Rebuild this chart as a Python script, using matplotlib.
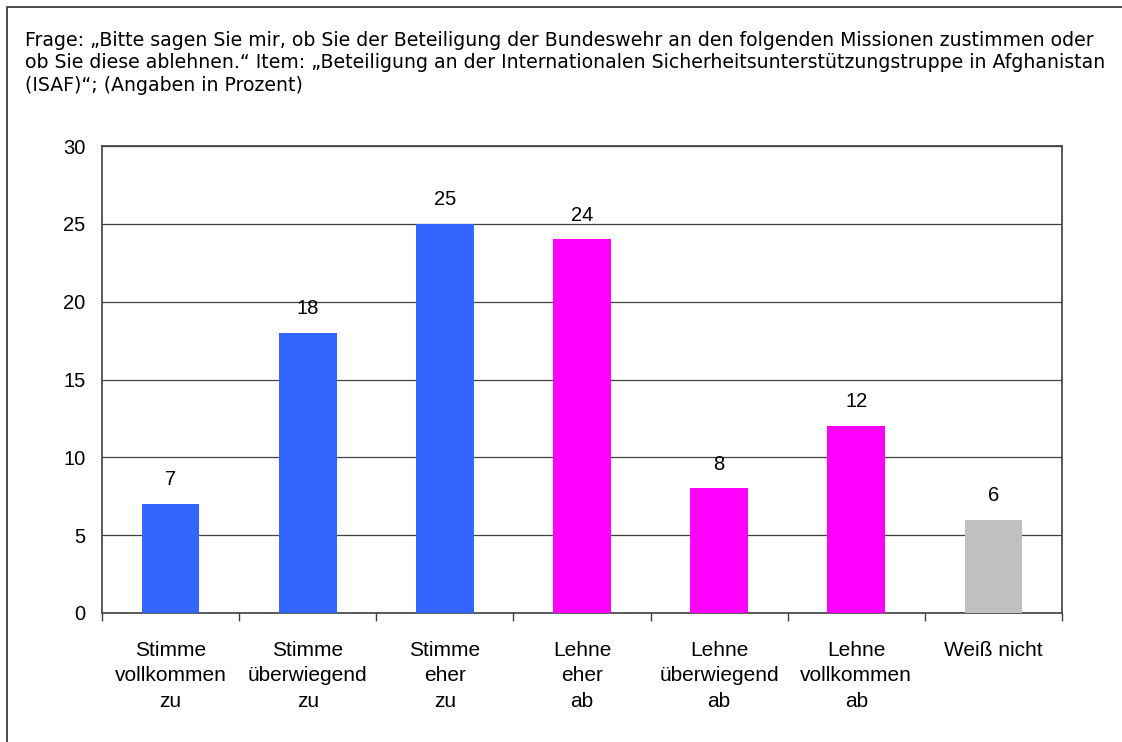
import matplotlib
matplotlib.use("Agg")
import matplotlib.pyplot as plt
from matplotlib.patches import Rectangle

plt.rcParams['font.family'] = ['Liberation Sans', 'DejaVu Sans']

# data
kategorien = ["Stimme\nvollkommen\nzu", "Stimme\nüberwiegend\nzu", "Stimme\neher\nzu",
              "Lehne\neher\nab", "Lehne\nüberwiegend\nab", "Lehne\nvollkommen\nab", "Weiß nicht"]
werte = [7, 18, 25, 24, 8, 12, 6]
farben = ["#3366FF", "#3366FF", "#3366FF", "#FF00FF", "#FF00FF", "#FF00FF", "#C0C0C0"]
yticks = [0, 5, 10, 15, 20, 25, 30]

titel = ("Frage: „Bitte sagen Sie mir, ob Sie der Beteiligung der Bundeswehr an den folgenden Missionen zustimmen oder\n"
         "ob Sie diese ablehnen.“ Item: „Beteiligung an der Internationalen Sicherheitsunterstützungstruppe in Afghanistan\n"
         "(ISAF)“; (Angaben in Prozent)")

W, H = 1122, 742
fig = plt.figure(figsize=(W/100, H/100), dpi=100)

# outer frame (cut off at right/bottom)
fig.patches.append(Rectangle((7/W, -0.1), 1.2, 1 - 7/H + 0.1, transform=fig.transFigure,
                             fill=False, edgecolor='#303030', linewidth=1.2))

fig.text(25/W, 1 - 31/H, titel, ha='left', va='top', fontsize=13.6, linespacing=1.22,
         family=['DejaVu Sans'])

ax = fig.add_axes([102/W, 1 - 613/H, (1062-102)/W, (613-146)/H])
x = list(range(len(werte)))
ax.bar(x, werte, width=0.42, color=farben, zorder=3)
for xi, v in zip(x, werte):
    ax.text(xi, v + 0.95, str(v), ha='center', va='bottom', fontsize=14.5)

ax.set_xlim(-0.5, len(werte) - 0.5)
ax.set_ylim(0, 30)
ax.set_yticks(yticks)
ax.set_yticklabels([str(t) for t in yticks], fontsize=14.5)
ax.tick_params(axis='y', length=0, pad=12)
ax.yaxis.grid(True, color='#404040', linewidth=0.9, zorder=0)

# category boundary ticks
ax.set_xticks([i - 0.5 for i in range(len(werte) + 1)])
ax.set_xticklabels([])
ax.tick_params(axis='x', length=6, width=1, color='#404040', direction='out')
for xi, lab in zip(x, kategorien):
    ax.text(xi, -1.8, lab, ha='center', va='top', fontsize=15, linespacing=1.42)

for s in ax.spines.values():
    s.set_color('#404040')
    s.set_linewidth(1.2)

fig.savefig("out.png", dpi=100)
